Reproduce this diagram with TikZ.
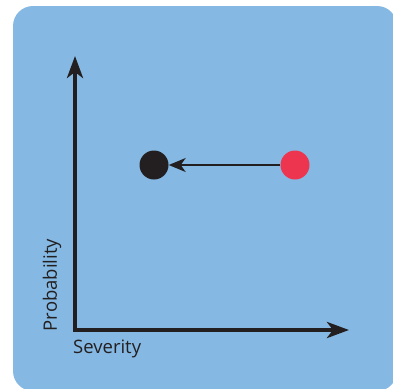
\documentclass[tikz,border=0pt]{standalone}
\usepackage{fontspec}
\setmainfont{Open Sans}
\usetikzlibrary{arrows.meta}
\definecolor{bgblue}{HTML}{85B9E3}
\definecolor{dotred}{HTML}{EE354F}
\definecolor{ink}{HTML}{231F20}
\begin{document}
\begin{tikzpicture}[x=1pt,y=-1pt,
  axis/.style={line width=4pt, ink, -{Stealth[length=22pt,width=16pt,inset=6pt]}},
  dot/.style={circle, inner sep=0pt, minimum size=29pt},
  lbl/.style={text=ink, font=\fontsize{18.5}{21}\selectfont, inner sep=0pt}]
\useasboundingbox (0,0) rectangle (393,388);
\clip (0,0) rectangle (393,388);
\fill[bgblue, rounded corners=20pt] (13,6) rectangle (397,391);
\coordinate (o) at (75,330);
\coordinate (ytip) at (75,56);
\coordinate (xtip) at (349,330);
\draw[axis, line cap=rect] (o) -- (ytip);
\draw[axis, line cap=rect] (o) -- (xtip);
\node[dot, fill=ink] (black) at (154,165) {};
\node[dot, fill=dotred] (red) at (295,165) {};
\draw[ink, line width=1.5pt, -{Stealth[length=17pt,width=14pt,inset=5pt]}] (red) -- (black);
\node[lbl, anchor=west] (sev) at (73,349) {Severity};
\node[lbl, rotate=90] (prob) at (52,285) {Probability};
\end{tikzpicture}
\end{document}
